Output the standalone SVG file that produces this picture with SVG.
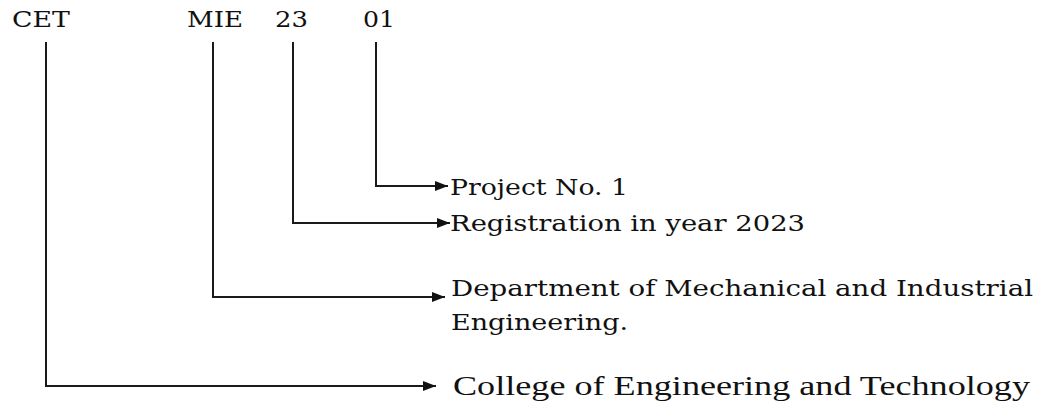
<svg xmlns="http://www.w3.org/2000/svg" width="1046" height="406" viewBox="0 0 1046 406">
<style>
.t{font-family:'DejaVu Serif',serif;font-size:22px;fill:#111}
.c{font-family:'Liberation Serif',serif;font-size:27px;fill:#111}
.ln{fill:none;stroke:#1a1a1a;stroke-width:2}
</style>
<defs>
<marker id="ah" markerUnits="userSpaceOnUse" markerWidth="14" markerHeight="11" refX="13" refY="5.5" orient="auto">
<path d="M0,0.5 L13,5.5 L0,10.5 z" fill="#111"/>
</marker>
</defs>
<g id="codes">
<text id="cet" class="t" x="12" y="27" textLength="58" lengthAdjust="spacingAndGlyphs">CET</text>
<text id="mie" class="t" x="187" y="27" textLength="56" lengthAdjust="spacingAndGlyphs">MIE</text>
<text id="yr" class="t" x="275" y="27" textLength="33" lengthAdjust="spacingAndGlyphs">23</text>
<text id="no" class="t" x="363" y="27" textLength="32" lengthAdjust="spacingAndGlyphs">01</text>
</g>
<g id="connectors">
<path class="ln" d="M46,42 V386 H436" marker-end="url(#ah)"/>
<path class="ln" d="M213,42 V297 H445" marker-end="url(#ah)"/>
<path class="ln" d="M293,42 V223 H450" marker-end="url(#ah)"/>
<path class="ln" d="M376,42 V186 H448" marker-end="url(#ah)"/>
</g>
<g id="n-project"><text class="t" x="450" y="195" textLength="178" lengthAdjust="spacingAndGlyphs">Project No. 1</text></g>
<g id="n-registration"><text class="t" x="450" y="231" textLength="355" lengthAdjust="spacingAndGlyphs">Registration in year 2023</text></g>
<g id="n-department">
<text class="t" x="451" y="296" textLength="582" lengthAdjust="spacingAndGlyphs">Department of Mechanical and Industrial</text>
<text class="t" x="451" y="330" textLength="177" lengthAdjust="spacingAndGlyphs">Engineering.</text>
</g>
<g id="n-college"><text class="c" x="453" y="395" textLength="577" lengthAdjust="spacingAndGlyphs">College of Engineering and Technology</text></g>
</svg>
